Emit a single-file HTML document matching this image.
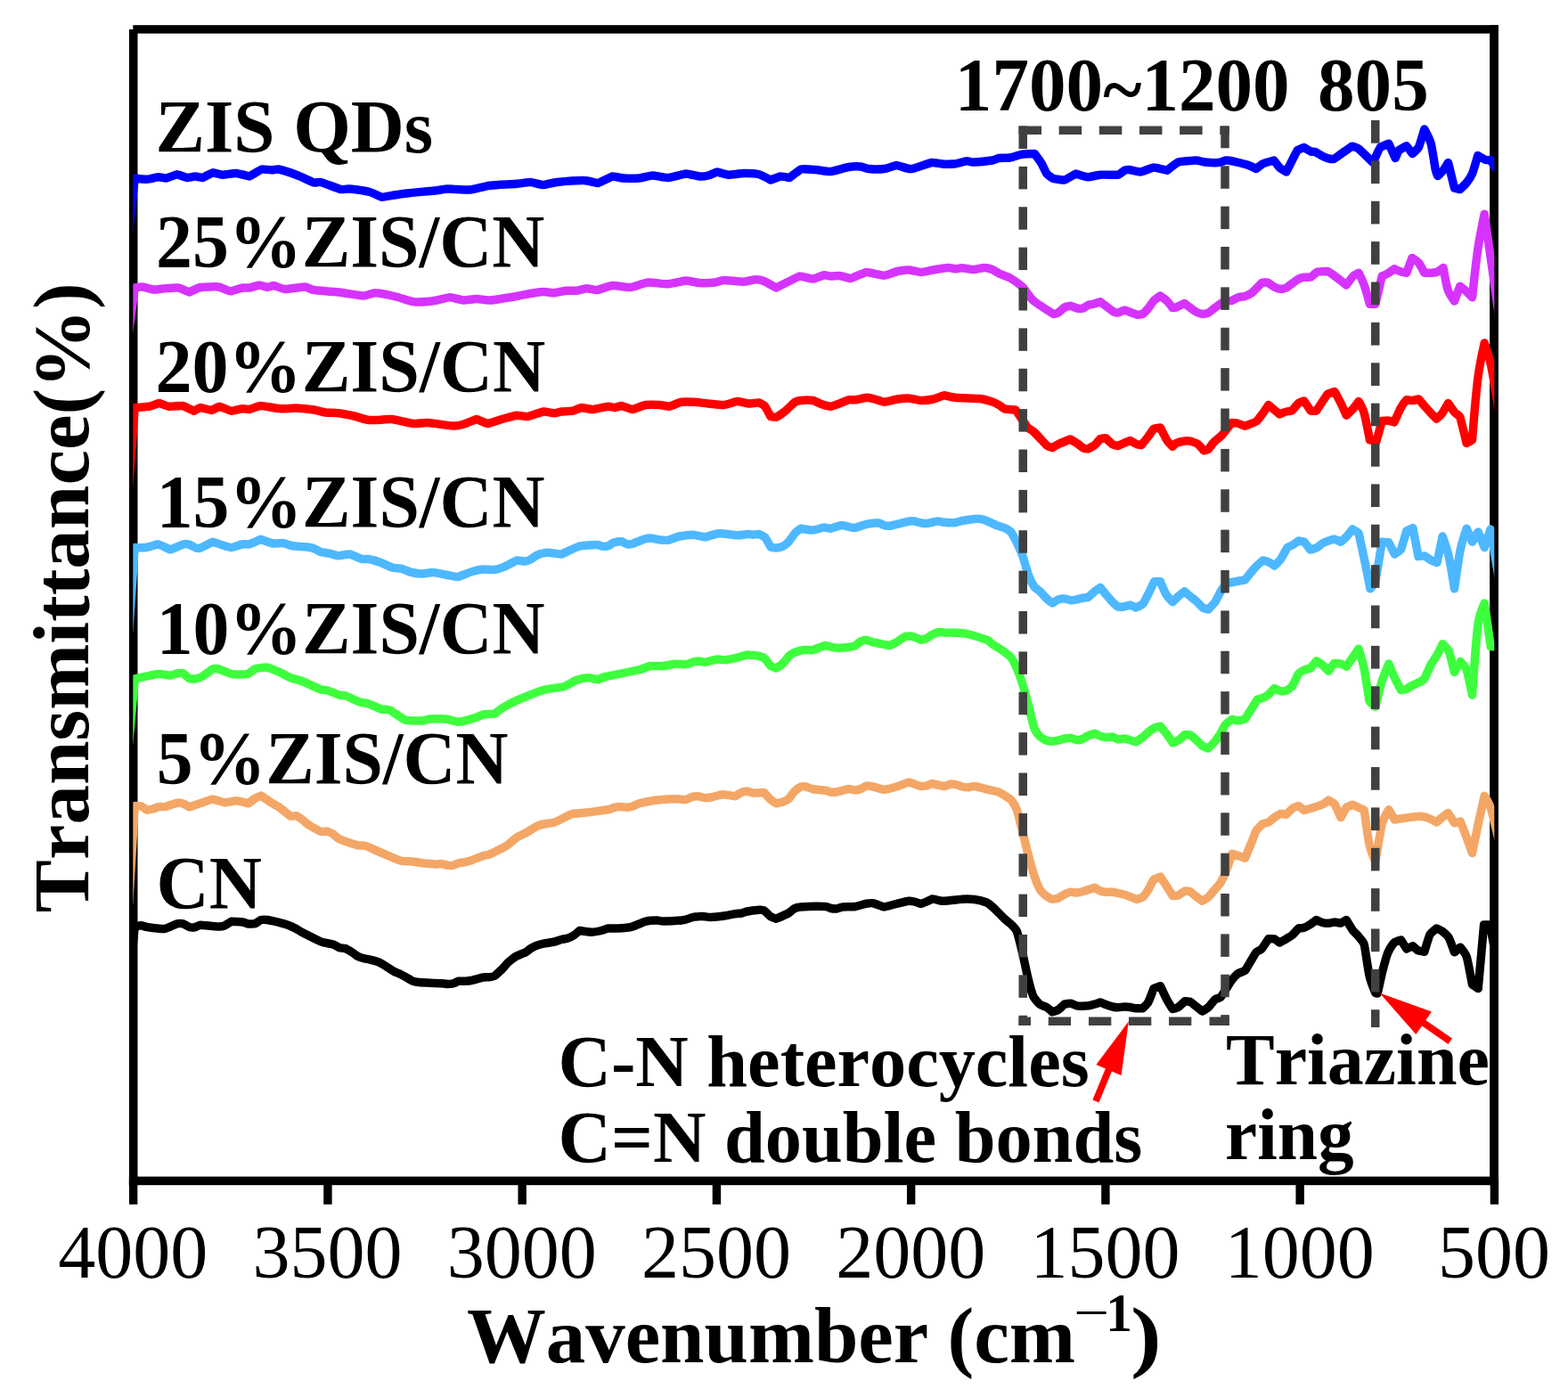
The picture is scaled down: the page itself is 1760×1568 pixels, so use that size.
<!DOCTYPE html>
<html lang="en"><head><meta charset="utf-8"><title>FTIR spectra</title>
<style>
html,body{margin:0;padding:0;background:#fff}
svg{display:block}
text{white-space:pre}
</style></head>
<body>
<svg width="1760" height="1568" viewBox="0 0 1760 1568">
<rect width="1760" height="1568" fill="#fff"/>
<defs><clipPath id="plotclip"><rect x="149.3" y="37" width="1528" height="1288"/></clipPath></defs>
<g id="axes" fill="#000"><rect x="144.9" y="33" width="9.6" height="1297.3"/><rect x="149.3" y="28.2" width="1532.6" height="9.4"/><rect x="1672.1" y="28.2" width="9.8" height="1302"/><rect x="144.9" y="1320.6" width="1537" height="9.6"/><rect x="144.95" y="1325" width="9.4" height="26.8"/><rect x="363.20" y="1325" width="9.4" height="26.8"/><rect x="581.45" y="1325" width="9.4" height="26.8"/><rect x="799.70" y="1325" width="9.4" height="26.8"/><rect x="1017.95" y="1325" width="9.4" height="26.8"/><rect x="1236.20" y="1325" width="9.4" height="26.8"/><rect x="1454.45" y="1325" width="9.4" height="26.8"/><rect x="1672.70" y="1325" width="9.4" height="26.8"/></g>
<g id="curves" clip-path="url(#plotclip)">
<path d="M144.6,1110 L151.2,1040.0 C151.2,1040.0 157.7,1038.7 158.8,1038.8 C159.8,1038.8 161.6,1040.0 165.0,1040.5 C168.4,1041.0 182.9,1042.7 185.0,1042.5 C187.1,1042.3 197.1,1037.2 198.8,1036.8 C200.4,1036.3 204.6,1036.5 205.5,1036.8 C206.4,1037.0 211.6,1040.2 212.5,1040.5 C213.4,1040.8 217.8,1040.9 218.8,1040.8 C219.7,1040.6 223.2,1038.3 225.0,1038.2 C226.8,1038.2 241.9,1039.9 245.0,1040.0 C248.1,1040.1 251.2,1039.3 252.5,1038.8 C253.8,1038.2 259.2,1034.4 260.0,1034.2 C260.8,1034.1 270.4,1034.7 272.5,1035.0 C274.6,1035.3 277.5,1036.8 278.8,1037.0 C280.0,1037.2 285.5,1037.0 286.2,1036.8 C287.0,1036.5 292.3,1032.7 293.0,1032.5 C293.7,1032.3 296.9,1032.0 300.0,1032.5 C303.1,1033.0 315.1,1035.8 318.8,1036.8 C322.4,1037.7 324.2,1038.7 326.2,1039.5 C328.3,1040.3 330.5,1041.4 332.5,1042.5 C334.5,1043.6 335.9,1044.9 340.0,1047.0 C344.1,1049.1 356.0,1055.2 360.0,1056.8 C364.0,1058.3 371.3,1059.2 373.8,1060.0 C376.2,1060.8 380.0,1063.3 381.2,1063.8 C382.5,1064.2 386.4,1064.1 387.5,1064.5 C388.6,1064.9 393.0,1067.5 395.0,1068.8 C397.0,1070.0 399.9,1072.5 401.2,1073.2 C402.6,1074.0 405.6,1075.0 407.5,1075.5 C409.4,1076.0 412.8,1076.5 415.0,1077.0 C417.2,1077.5 419.9,1078.1 421.8,1078.8 C423.6,1079.4 427.0,1080.8 428.8,1081.8 C430.5,1082.7 432.7,1084.3 435.0,1085.8 C437.3,1087.2 440.5,1089.4 442.5,1090.5 C444.5,1091.6 447.1,1092.3 450.0,1093.8 C452.9,1095.2 460.4,1099.8 462.5,1100.8 C464.6,1101.7 465.8,1102.1 470.0,1102.5 C474.2,1102.9 489.9,1103.4 495.0,1103.8 C500.1,1104.1 500.8,1104.5 502.5,1104.5 C504.2,1104.5 507.4,1104.1 508.8,1103.8 C510.1,1103.4 513.8,1101.5 515.0,1101.2 C516.2,1101.0 520.6,1101.4 522.5,1101.2 C524.4,1101.1 526.0,1101.1 528.8,1100.5 C531.5,1099.9 540.1,1097.5 542.5,1097.0 C544.9,1096.5 547.1,1096.9 548.8,1096.8 C550.4,1096.6 554.3,1095.9 555.0,1095.5 C555.7,1095.1 560.3,1090.9 562.5,1088.8 C564.7,1086.6 568.2,1082.3 570.0,1080.5 C571.8,1078.7 574.8,1076.6 576.2,1075.5 C577.7,1074.4 578.3,1073.9 580.0,1073.0 C581.7,1072.1 588.1,1069.8 590.0,1068.8 C591.9,1067.7 594.6,1065.2 596.2,1064.2 C597.9,1063.3 600.8,1061.9 602.5,1061.2 C604.2,1060.6 607.0,1059.9 610.0,1059.2 C613.0,1058.6 619.8,1057.6 622.5,1057.0 C625.2,1056.4 627.9,1055.1 630.0,1054.5 C632.1,1053.9 635.9,1053.5 637.5,1053.0 C639.1,1052.5 642.2,1051.0 643.8,1050.0 C645.3,1049.0 650.5,1044.5 650.5,1044.5 C650.5,1044.5 661.2,1046.2 663.8,1046.2 C666.3,1046.2 672.5,1045.1 675.0,1044.5 C677.5,1043.9 681.0,1042.2 682.5,1042.0 C684.0,1041.8 686.7,1042.1 690.0,1042.0 C693.3,1041.9 701.0,1041.5 703.8,1041.2 C706.5,1041.0 707.4,1040.9 710.0,1040.0 C712.6,1039.1 721.2,1035.4 723.8,1034.5 C726.3,1033.6 728.2,1033.4 730.0,1033.2 C731.8,1033.1 735.5,1032.9 737.5,1033.0 C739.5,1033.1 741.5,1034.0 745.0,1034.0 C748.5,1034.0 761.6,1033.3 765.0,1033.0 C768.4,1032.7 768.2,1032.5 770.0,1032.0 C771.8,1031.5 775.8,1029.9 777.5,1029.5 C779.2,1029.1 781.8,1028.9 783.8,1028.8 C785.7,1028.6 789.3,1028.6 791.2,1028.8 C793.2,1028.9 795.1,1029.6 797.5,1029.5 C799.9,1029.4 807.2,1028.8 811.2,1028.2 C815.3,1027.7 821.8,1026.2 825.0,1025.8 C828.2,1025.3 830.8,1025.3 832.5,1025.0 C834.2,1024.7 836.2,1023.5 838.8,1023.0 C841.3,1022.5 850.3,1021.4 852.5,1021.2 C854.7,1021.1 857.1,1021.5 857.5,1021.8 C857.9,1022.0 863.8,1027.9 865.0,1028.8 C866.2,1029.6 871.2,1031.2 871.2,1031.2 C871.2,1031.2 882.7,1026.3 885.0,1025.0 C887.3,1023.7 890.2,1020.6 891.2,1020.0 C892.3,1019.4 894.7,1018.3 898.8,1018.0 C902.8,1017.7 923.0,1017.4 926.2,1017.5 C929.5,1017.6 931.0,1019.2 932.5,1019.5 C934.0,1019.8 937.5,1020.1 938.8,1020.0 C940.0,1019.9 943.7,1018.3 946.2,1018.0 C948.8,1017.7 956.8,1018.0 960.0,1017.5 C963.2,1017.0 970.0,1014.7 972.5,1014.2 C975.0,1013.8 978.3,1013.4 980.0,1013.8 C981.7,1014.1 991.3,1018.0 992.5,1018.0 C993.7,1018.0 1001.8,1015.6 1006.2,1014.5 C1010.7,1013.4 1018.2,1011.5 1020.0,1011.2 C1021.8,1011.0 1024.5,1011.6 1026.2,1012.0 C1028.0,1012.4 1033.5,1014.5 1033.8,1014.5 C1034.0,1014.5 1037.9,1012.9 1040.0,1012.0 C1042.1,1011.1 1046.7,1008.8 1047.0,1008.8 C1047.3,1008.7 1052.0,1010.2 1053.8,1010.5 C1055.5,1010.8 1056.8,1011.4 1060.0,1011.2 C1063.2,1011.1 1075.2,1009.5 1080.0,1009.2 C1084.8,1009.0 1090.5,1009.1 1093.8,1009.5 C1097.0,1009.9 1105.8,1012.3 1107.5,1013.0 C1109.2,1013.7 1112.2,1016.2 1115.0,1018.8 C1117.8,1021.3 1124.6,1028.5 1127.5,1031.2 C1130.4,1034.0 1133.2,1035.7 1135.0,1037.5 C1136.8,1039.3 1140.3,1042.7 1141.2,1045.0 C1142.2,1047.3 1145.5,1060.5 1147.5,1068.8 C1149.5,1077.0 1151.9,1089.9 1153.8,1097.5 C1155.6,1105.1 1158.9,1116.4 1160.0,1118.8 C1161.1,1121.1 1166.4,1126.7 1167.5,1127.5 C1168.6,1128.3 1173.5,1129.8 1175.0,1130.8 C1176.5,1131.7 1181.2,1135.8 1181.2,1135.8 C1181.2,1135.8 1186.8,1134.0 1188.0,1133.2 C1189.2,1132.5 1194.5,1127.2 1195.0,1127.0 C1195.5,1126.8 1201.1,1126.1 1202.0,1126.2 C1202.9,1126.4 1207.3,1128.4 1208.8,1128.8 C1210.2,1129.1 1213.2,1129.2 1215.0,1129.2 C1216.8,1129.2 1220.2,1129.0 1222.0,1128.8 C1223.8,1128.5 1226.7,1127.6 1228.8,1127.0 C1230.8,1126.4 1234.7,1125.0 1235.0,1125.0 C1235.3,1125.0 1239.1,1126.7 1241.2,1127.5 C1243.4,1128.3 1247.0,1129.6 1248.8,1130.0 C1250.5,1130.4 1253.3,1130.8 1255.0,1130.8 C1256.7,1130.8 1260.7,1130.0 1262.5,1130.0 C1264.3,1130.0 1266.9,1130.2 1268.8,1130.5 C1270.6,1130.8 1273.7,1131.6 1275.5,1131.8 C1277.3,1131.9 1282.5,1131.8 1282.5,1131.8 C1282.5,1131.8 1287.6,1127.0 1288.8,1125.0 C1289.9,1123.0 1295.0,1109.5 1295.0,1109.5 L1302.5,1106.8 C1302.5,1106.8 1308.0,1118.8 1310.0,1122.5 C1312.0,1126.2 1316.2,1132.5 1316.2,1132.5 C1316.2,1132.5 1321.4,1131.2 1322.5,1130.5 C1323.6,1129.8 1330.0,1123.8 1330.0,1123.8 C1330.0,1123.8 1335.6,1124.2 1336.2,1124.5 C1336.9,1124.8 1340.3,1127.8 1342.5,1129.5 C1344.7,1131.2 1349.5,1135.0 1349.5,1135.0 C1349.5,1135.0 1354.8,1132.1 1356.2,1130.8 C1357.7,1129.4 1363.0,1122.4 1363.8,1121.8 C1364.5,1121.1 1369.6,1119.9 1370.0,1119.5 C1370.4,1119.1 1374.1,1113.3 1376.2,1110.0 C1378.4,1106.7 1381.3,1101.6 1383.0,1099.5 C1384.7,1097.4 1388.8,1093.3 1390.0,1092.5 C1391.2,1091.7 1397.1,1089.9 1397.5,1089.5 C1397.9,1089.1 1402.9,1080.4 1405.0,1077.0 C1407.1,1073.6 1409.3,1069.5 1410.0,1068.8 C1410.7,1068.0 1415.2,1066.1 1416.2,1065.0 C1417.3,1063.9 1423.8,1053.8 1423.8,1053.8 C1423.8,1053.8 1430.1,1053.6 1430.5,1053.8 C1430.9,1053.9 1436.2,1058.0 1436.2,1058.0 C1436.2,1058.0 1441.5,1055.1 1443.8,1053.8 C1446.0,1052.4 1449.0,1050.8 1450.5,1049.5 C1452.0,1048.2 1457.3,1042.1 1457.5,1042.0 C1457.7,1041.9 1462.6,1041.6 1463.8,1041.2 C1464.9,1040.9 1468.9,1038.7 1470.8,1037.5 C1472.6,1036.3 1477.5,1032.5 1477.5,1032.5 C1477.5,1032.5 1482.9,1035.1 1484.2,1035.5 C1485.6,1035.9 1489.8,1036.3 1491.2,1036.2 C1492.7,1036.2 1496.8,1035.0 1498.0,1035.0 C1499.2,1035.0 1504.8,1036.3 1505.0,1036.2 C1505.2,1036.2 1511.2,1032.5 1511.2,1032.5 C1511.2,1032.5 1516.5,1041.3 1518.2,1043.8 C1520.0,1046.2 1523.1,1048.9 1525.0,1051.2 C1526.9,1053.6 1530.4,1057.0 1531.2,1060.0 C1532.1,1063.0 1535.4,1087.9 1537.0,1095.0 C1538.6,1102.1 1543.8,1114.5 1543.8,1114.5 L1546.2,1115.0 C1546.2,1115.0 1549.7,1099.0 1551.2,1092.5 C1552.8,1086.0 1555.1,1077.5 1556.2,1073.8 C1557.4,1070.0 1558.9,1066.9 1560.0,1065.0 C1561.1,1063.1 1565.0,1057.9 1565.5,1057.5 C1566.0,1057.1 1572.5,1055.0 1572.5,1055.0 L1578.8,1065.0 L1585.8,1061.8 C1585.8,1061.8 1591.3,1066.6 1592.0,1067.0 C1592.7,1067.4 1598.8,1068.2 1598.8,1068.2 C1598.8,1068.2 1604.2,1050.2 1605.0,1048.8 C1605.8,1047.3 1612.5,1042.0 1612.5,1042.0 C1612.5,1042.0 1617.9,1044.4 1619.2,1045.5 C1620.6,1046.6 1625.2,1050.7 1626.2,1052.5 C1627.3,1054.3 1632.5,1068.8 1632.5,1068.8 L1639.2,1063.2 C1639.2,1063.2 1645.1,1070.3 1646.2,1073.8 C1647.4,1077.2 1652.5,1105.0 1652.5,1105.0 L1659.2,1109.5 L1665.6,1038.0 L1672.5,1038.0 L1682.0,1090.0" fill="none" stroke="#000000" stroke-width="9.5" stroke-linejoin="round" stroke-linecap="butt"/>
<path d="M144.6,1015 L151.2,904.5 C151.2,904.5 158.0,904.7 158.8,905.0 C159.5,905.3 165.0,909.2 165.0,909.2 C165.0,909.2 169.3,908.5 171.2,908.0 C173.2,907.5 177.4,905.7 178.8,905.5 C180.1,905.3 182.9,905.9 185.0,905.5 C187.1,905.1 197.1,901.5 198.8,901.2 C200.4,901.0 204.3,901.6 205.5,902.0 C206.7,902.4 212.5,905.8 212.5,905.8 C212.5,905.8 214.5,905.2 218.8,903.8 C223.0,902.3 237.4,897.1 238.8,897.0 C240.1,896.9 250.5,900.6 252.5,900.8 C254.5,900.9 262.7,898.7 265.0,898.8 C267.3,898.8 278.8,901.8 278.8,901.8 C278.8,901.8 284.4,897.4 286.2,896.2 C288.1,895.1 293.0,893.0 293.0,893.0 C293.0,893.0 302.1,899.4 305.0,901.2 C307.9,903.1 309.6,903.5 312.5,905.5 C315.4,907.5 326.2,916.2 326.2,916.2 C326.3,916.3 332.3,915.4 332.5,915.5 C332.7,915.6 338.0,919.0 340.0,920.5 C342.0,922.0 343.8,924.2 346.2,925.8 C348.7,927.3 358.7,932.8 360.0,933.2 C361.3,933.7 366.5,933.0 367.5,933.2 C368.5,933.5 372.0,935.2 373.8,936.2 C375.5,937.3 378.4,940.5 381.2,941.8 C384.1,943.0 398.2,947.9 401.2,948.8 C404.3,949.6 407.5,948.5 410.0,949.2 C412.5,950.0 422.3,954.8 428.8,957.5 C435.2,960.2 447.0,965.4 450.0,966.2 C453.0,967.1 457.6,966.4 461.2,966.8 C464.9,967.1 470.7,968.2 475.0,968.8 C479.3,969.3 486.1,969.9 488.8,970.0 C491.4,970.1 493.6,969.4 495.0,969.5 C496.4,969.6 500.9,971.0 502.5,971.2 C504.1,971.5 507.7,971.5 508.8,971.2 C509.8,971.0 513.3,969.2 515.0,968.8 C516.7,968.3 520.5,967.9 522.5,967.5 C524.5,967.1 525.8,966.8 528.8,965.8 C531.7,964.7 539.9,961.4 542.5,960.5 C545.1,959.6 546.5,960.1 548.8,959.2 C551.0,958.4 559.2,954.2 562.5,952.5 C565.8,950.8 567.7,949.9 570.0,948.2 C572.3,946.6 577.6,941.6 580.0,940.0 C582.4,938.4 586.6,936.9 590.0,935.0 C593.4,933.1 600.1,928.7 602.5,927.5 C604.9,926.3 607.4,925.6 610.0,925.0 C612.6,924.4 619.8,923.9 622.5,923.0 C625.2,922.1 633.1,917.7 636.2,916.2 C639.4,914.8 641.2,913.7 643.8,913.2 C646.3,912.8 653.9,912.5 660.0,911.8 C666.1,911.0 678.7,909.4 682.5,908.8 C686.3,908.1 688.3,906.7 690.0,906.2 C691.7,905.8 694.6,905.5 696.2,905.5 C697.9,905.5 702.3,906.3 703.8,906.2 C705.2,906.2 708.3,905.5 710.0,905.0 C711.7,904.5 715.1,902.5 717.5,901.8 C719.9,901.0 726.8,899.8 730.0,899.2 C733.2,898.7 733.5,898.4 737.5,898.0 C741.5,897.6 752.9,896.8 757.5,896.8 C762.1,896.7 768.7,897.7 770.0,897.5 C771.3,897.3 776.2,894.6 777.5,894.2 C778.8,893.9 782.4,893.6 783.8,893.8 C785.1,893.9 789.9,895.4 791.2,895.5 C792.6,895.6 794.8,895.5 797.5,895.0 C800.2,894.5 808.9,891.9 811.2,891.8 C813.6,891.6 824.5,893.8 825.0,893.8 C825.5,893.7 831.2,889.8 832.5,889.2 C833.8,888.7 838.0,888.0 838.8,888.0 C839.5,888.0 843.3,889.9 845.0,890.0 C846.7,890.1 857.5,889.5 857.5,889.5 C857.5,889.5 863.4,896.0 865.0,897.5 C866.6,899.0 871.2,901.8 871.2,901.8 C871.2,901.8 877.1,900.6 878.8,900.0 C880.4,899.4 884.2,897.7 885.0,897.0 C885.8,896.3 889.7,890.3 891.2,888.8 C892.8,887.2 898.4,883.2 898.8,883.0 C899.1,882.8 903.7,882.7 905.0,883.0 C906.3,883.3 910.1,885.3 912.5,885.8 C914.9,886.2 924.0,886.6 926.2,887.0 C928.5,887.4 931.4,889.1 932.5,889.2 C933.6,889.4 937.5,889.2 940.0,888.8 C942.5,888.3 950.9,885.7 952.5,885.5 C954.1,885.3 958.8,886.8 960.0,886.8 C961.2,886.8 965.0,886.0 966.2,885.5 C967.5,885.0 972.1,882.1 972.5,882.0 C972.9,881.9 977.2,882.4 980.0,883.0 C982.8,883.6 990.8,886.2 992.5,886.2 C994.2,886.2 1002.3,884.2 1006.2,883.0 C1010.2,881.8 1019.5,878.1 1020.0,878.0 C1020.5,877.9 1024.0,879.3 1026.2,880.0 C1028.5,880.7 1032.7,882.4 1033.8,882.5 C1034.8,882.6 1038.5,882.1 1040.0,881.8 C1041.5,881.4 1045.6,879.5 1046.2,879.5 C1046.9,879.5 1051.6,880.8 1053.8,881.2 C1055.9,881.7 1059.2,882.6 1060.0,882.5 C1060.8,882.4 1066.5,880.2 1067.5,880.0 C1068.5,879.8 1071.0,880.1 1072.5,880.5 C1074.0,880.9 1078.3,882.6 1080.0,883.0 C1081.7,883.4 1084.8,883.8 1086.2,883.8 C1087.7,883.7 1092.0,882.3 1093.8,882.5 C1095.5,882.7 1103.0,884.6 1107.5,885.8 C1112.0,886.9 1118.5,888.0 1121.2,889.2 C1124.0,890.5 1133.7,896.7 1135.0,898.0 C1136.3,899.3 1139.9,905.0 1141.2,908.8 C1142.6,912.5 1145.2,923.7 1147.5,932.5 C1149.8,941.3 1152.8,954.4 1155.0,962.5 C1157.2,970.6 1159.5,978.5 1161.2,983.8 C1163.0,989.0 1166.3,996.9 1167.5,998.8 C1168.7,1000.6 1173.7,1005.3 1175.0,1006.2 C1176.3,1007.2 1180.8,1009.2 1181.2,1009.2 C1181.7,1009.3 1186.8,1008.5 1188.0,1008.0 C1189.2,1007.5 1193.3,1004.6 1195.0,1003.8 C1196.7,1002.9 1201.0,1001.4 1202.0,1001.2 C1203.0,1001.1 1207.4,1002.1 1208.8,1002.0 C1210.1,1001.9 1212.2,1001.6 1215.0,1000.8 C1217.8,999.9 1228.8,996.2 1228.8,996.2 C1228.8,996.2 1233.8,999.5 1235.0,1000.0 C1236.2,1000.5 1239.5,1001.1 1241.2,1001.2 C1243.0,1001.4 1246.2,1000.9 1248.8,1001.2 C1251.3,1001.6 1259.0,1003.2 1262.5,1004.2 C1266.0,1005.3 1275.3,1009.5 1275.5,1009.5 C1275.7,1009.5 1281.9,1007.5 1282.5,1007.0 C1283.1,1006.5 1287.1,1001.4 1288.8,998.8 C1290.4,996.1 1294.8,987.2 1295.0,987.0 C1295.2,986.8 1302.5,984.2 1302.5,984.2 C1302.5,984.2 1307.8,992.1 1310.0,995.5 C1312.2,998.9 1316.2,1005.5 1316.2,1005.5 C1316.2,1005.5 1321.7,1005.3 1322.5,1005.0 C1323.3,1004.7 1329.8,1000.1 1330.0,1000.0 C1330.2,999.9 1335.8,1000.5 1336.2,1000.8 C1336.7,1001.0 1340.6,1004.7 1342.5,1006.2 C1344.4,1007.8 1349.5,1011.2 1349.5,1011.2 C1349.5,1011.2 1354.8,1008.3 1356.2,1007.0 C1357.7,1005.7 1361.5,1000.9 1363.8,998.2 C1366.0,995.6 1368.6,993.1 1370.0,990.8 C1371.4,988.4 1374.4,982.2 1376.2,977.5 C1378.1,972.8 1383.0,958.2 1383.0,958.2 C1383.0,958.2 1387.7,959.7 1390.0,960.5 C1392.3,961.3 1397.5,963.2 1397.5,963.2 C1397.5,963.2 1402.9,950.1 1405.0,945.0 C1407.1,939.9 1408.9,934.3 1410.0,932.5 C1411.1,930.7 1416.9,924.9 1417.5,924.5 C1418.1,924.1 1422.8,923.5 1423.8,923.0 C1424.7,922.5 1428.6,918.8 1430.5,917.5 C1432.4,916.2 1437.3,913.3 1437.5,913.2 C1437.7,913.2 1443.8,914.2 1443.8,914.2 C1443.8,914.2 1450.1,907.8 1451.2,907.0 C1452.4,906.2 1457.5,904.5 1457.5,904.5 L1463.8,909.5 C1463.8,909.5 1467.5,908.5 1470.8,907.5 C1474.0,906.5 1482.0,904.0 1484.2,903.0 C1486.5,902.0 1491.2,898.2 1491.2,898.2 C1491.2,898.2 1497.4,901.6 1498.0,902.5 C1498.6,903.4 1505.0,917.5 1505.0,917.5 C1505.0,917.5 1510.9,906.6 1511.2,906.2 C1511.6,905.9 1518.2,903.2 1518.2,903.2 L1531.2,909.2 C1531.2,909.2 1535.4,940.0 1537.0,947.5 C1538.6,955.0 1543.8,967.5 1543.8,967.5 C1543.8,967.5 1549.6,931.6 1551.2,925.0 C1552.9,918.4 1558.8,908.8 1558.8,908.8 L1565.5,920.0 C1565.5,920.0 1574.4,918.6 1578.8,918.0 C1583.1,917.4 1589.5,916.4 1592.0,916.2 C1594.5,916.1 1597.2,916.4 1598.8,916.8 C1600.3,917.1 1604.4,918.7 1606.2,919.5 C1608.1,920.3 1612.5,923.0 1612.5,923.0 C1612.5,923.0 1617.4,918.5 1619.2,917.0 C1621.1,915.5 1625.5,912.5 1625.5,912.5 L1632.5,923.8 L1639.2,922.0 C1639.2,922.0 1644.1,934.3 1646.2,940.0 C1648.4,945.7 1652.5,957.5 1652.5,957.5 C1652.5,957.5 1657.0,935.5 1659.2,925.0 C1661.5,914.5 1666.2,893.3 1666.2,893.3 C1666.2,893.3 1671.2,900.7 1673.1,906.5 C1675.0,912.3 1682.3,943.0 1682.3,943.0" fill="none" stroke="#f4a666" stroke-width="9.5" stroke-linejoin="round" stroke-linecap="butt"/>
<path d="M144.6,834.5 L151.2,762.0 C151.2,762.0 173.7,756.9 177.5,756.5 C181.3,756.1 189.7,758.3 191.2,758.2 C192.8,758.2 197.3,756.0 198.8,755.8 C200.2,755.5 205.2,755.6 205.5,755.8 C205.8,755.9 212.0,761.3 212.5,761.5 C213.0,761.7 217.6,762.2 218.8,762.0 C219.9,761.8 225.5,760.2 227.5,759.0 C229.5,757.8 238.2,751.0 238.8,750.8 C239.3,750.5 243.1,750.2 245.0,750.8 C246.9,751.3 257.7,755.9 260.0,756.5 C262.3,757.1 264.9,757.0 267.5,757.0 C270.1,757.0 277.9,756.5 278.8,756.2 C279.6,756.0 285.0,751.2 286.2,750.8 C287.5,750.3 297.0,748.8 298.8,749.0 C300.5,749.2 308.7,752.1 312.5,753.8 C316.3,755.4 323.1,759.5 326.2,760.8 C329.4,762.0 332.8,762.2 337.5,764.0 C342.2,765.8 356.6,772.5 360.0,773.8 C363.4,775.0 364.9,774.2 367.5,775.0 C370.1,775.8 379.1,779.6 381.2,780.2 C383.4,780.9 385.5,780.1 387.5,780.8 C389.5,781.4 399.3,786.4 402.5,787.5 C405.7,788.6 410.5,788.9 413.8,790.0 C417.0,791.1 424.9,795.0 427.5,795.8 C430.1,796.5 435.5,796.1 437.5,797.0 C439.5,797.9 453.0,807.6 455.0,808.2 C457.0,808.9 470.7,809.1 473.8,809.0 C476.8,808.9 479.4,807.2 482.5,807.0 C485.6,806.8 496.3,806.6 500.0,807.0 C503.7,807.4 511.7,810.1 513.8,810.2 C515.8,810.4 522.1,809.0 525.0,808.2 C527.9,807.5 532.3,806.0 535.0,805.0 C537.7,804.0 540.5,802.4 542.5,802.0 C544.5,801.6 554.0,801.6 555.0,801.2 C556.0,800.9 561.6,796.0 565.0,794.0 C568.4,792.0 573.5,789.1 580.0,786.2 C586.5,783.4 603.6,776.4 610.0,774.5 C616.4,772.6 628.6,771.9 632.5,770.8 C636.4,769.6 644.5,764.4 647.5,763.2 C650.5,762.1 657.9,760.8 660.0,760.8 C662.1,760.7 670.2,762.8 671.2,762.8 C672.3,762.7 673.9,760.9 680.0,759.5 C686.1,758.1 709.1,753.7 716.2,752.0 C723.4,750.3 727.1,747.9 730.0,747.5 C732.9,747.1 741.5,747.8 745.0,747.5 C748.5,747.2 754.5,745.5 757.5,745.2 C760.5,745.0 768.2,745.9 770.0,745.8 C771.8,745.6 775.5,743.8 777.5,743.2 C779.5,742.7 783.8,742.0 785.0,742.0 C786.2,742.0 789.7,743.4 791.2,743.2 C792.8,743.1 802.8,740.2 805.0,740.0 C807.2,739.8 811.3,740.9 813.8,740.8 C816.2,740.6 823.9,739.1 827.5,738.2 C831.1,737.4 836.7,735.1 838.8,735.0 C840.8,734.9 850.6,736.1 852.5,736.5 C854.4,736.9 857.9,738.7 858.8,739.5 C859.6,740.3 864.3,746.9 865.0,747.5 C865.7,748.1 871.2,750.0 871.2,750.0 C871.2,750.0 877.0,746.2 878.8,744.5 C880.5,742.8 884.9,737.0 886.2,735.8 C887.6,734.5 890.8,732.6 892.5,732.0 C894.2,731.4 900.2,729.8 902.5,729.5 C904.8,729.2 910.3,730.0 912.5,729.5 C914.7,729.0 925.1,724.6 926.2,724.5 C927.4,724.4 934.5,726.8 937.5,727.0 C940.5,727.2 949.8,726.8 952.5,726.5 C955.2,726.2 958.8,725.1 960.0,724.5 C961.2,723.9 965.1,720.6 966.2,720.0 C967.4,719.4 971.9,718.2 972.5,718.2 C973.1,718.3 976.3,719.9 980.0,720.8 C983.7,721.6 998.1,724.5 998.8,724.5 C999.4,724.5 1005.2,721.4 1007.5,720.0 C1009.8,718.6 1014.0,715.5 1015.0,715.0 C1016.0,714.5 1019.0,714.0 1020.0,714.0 C1021.0,714.0 1024.7,714.5 1026.2,715.0 C1027.8,715.5 1033.4,718.2 1033.8,718.2 C1034.1,718.3 1038.7,717.1 1040.0,716.5 C1041.3,715.9 1044.5,713.4 1046.2,712.5 C1048.0,711.6 1052.8,709.6 1053.8,709.5 C1054.7,709.4 1059.4,710.2 1061.2,710.2 C1063.1,710.3 1064.8,709.9 1067.5,710.0 C1070.2,710.1 1077.1,710.5 1080.0,710.8 C1082.9,711.0 1083.7,711.0 1087.5,712.0 C1091.3,713.0 1104.8,717.1 1107.5,718.2 C1110.2,719.4 1112.4,722.0 1115.0,723.8 C1117.6,725.5 1122.2,728.0 1125.0,730.0 C1127.8,732.0 1133.7,736.7 1135.0,738.2 C1136.3,739.8 1138.3,743.2 1140.0,747.0 C1141.7,750.8 1145.5,760.7 1147.5,767.0 C1149.5,773.3 1152.1,783.5 1153.8,789.5 C1155.4,795.5 1156.3,799.8 1157.5,804.5 C1158.7,809.2 1160.3,816.2 1161.2,818.2 C1162.2,820.3 1166.5,826.0 1167.5,827.0 C1168.5,828.0 1173.9,830.8 1175.0,831.2 C1176.1,831.7 1179.8,832.1 1181.2,832.0 C1182.7,831.9 1186.8,831.2 1188.8,830.8 C1190.7,830.3 1193.3,829.3 1195.0,829.0 C1196.7,828.7 1200.2,828.1 1201.2,828.2 C1202.3,828.4 1208.0,830.7 1208.8,830.8 C1209.5,830.8 1213.8,830.0 1215.0,829.5 C1216.2,829.0 1219.6,826.5 1221.2,825.8 C1222.9,825.0 1228.7,823.2 1228.8,823.2 C1228.8,823.3 1233.6,825.8 1235.0,826.2 C1236.4,826.7 1239.7,827.4 1241.2,827.5 C1242.8,827.6 1248.0,826.9 1248.8,827.0 C1249.5,827.1 1254.4,829.9 1255.0,830.0 C1255.6,830.1 1261.0,828.8 1262.5,829.0 C1264.0,829.2 1275.0,832.8 1275.0,832.8 C1275.0,832.8 1280.5,829.0 1282.5,827.5 C1284.5,826.0 1286.9,823.5 1288.8,822.0 C1290.6,820.5 1293.7,818.1 1295.0,817.5 C1296.3,816.9 1302.5,815.2 1302.5,815.2 C1302.5,815.2 1308.0,821.8 1310.0,824.5 C1312.0,827.2 1316.2,833.8 1316.2,833.8 C1316.2,833.8 1321.2,832.1 1322.5,831.2 C1323.8,830.4 1330.0,824.5 1330.0,824.5 C1330.0,824.5 1335.6,824.9 1336.2,825.2 C1336.9,825.6 1341.7,829.6 1343.8,831.5 C1345.8,833.4 1348.9,836.8 1350.0,837.5 C1351.1,838.2 1356.2,840.0 1356.2,840.0 C1356.2,840.0 1361.8,834.3 1363.8,832.0 C1365.7,829.7 1368.4,825.8 1370.0,823.2 C1371.6,820.7 1374.0,815.1 1375.0,813.8 C1376.0,812.4 1382.5,807.5 1382.5,807.5 C1382.5,807.5 1388.8,808.8 1390.0,808.8 C1391.2,808.7 1397.5,807.0 1397.5,807.0 C1397.5,807.0 1402.7,798.8 1405.0,795.2 C1407.3,791.7 1411.0,785.5 1411.2,785.2 C1411.5,785.0 1416.0,783.9 1417.5,783.2 C1419.0,782.6 1422.3,780.7 1423.8,779.5 C1425.2,778.3 1430.5,772.5 1430.5,772.5 C1430.5,772.5 1436.7,775.6 1437.5,775.8 C1438.3,775.9 1443.2,775.5 1443.8,775.2 C1444.3,775.0 1449.5,771.4 1450.5,770.0 C1451.5,768.6 1456.7,757.3 1457.5,756.2 C1458.3,755.2 1462.4,752.6 1463.8,752.0 C1465.1,751.4 1470.2,750.4 1470.8,750.0 C1471.3,749.6 1477.5,742.0 1477.5,742.0 C1477.5,742.0 1482.6,744.9 1484.2,746.2 C1485.9,747.6 1491.2,753.2 1491.2,753.2 L1497.5,744.5 C1497.5,744.5 1503.9,744.7 1505.0,745.0 C1506.1,745.3 1511.2,748.2 1511.2,748.2 C1511.2,748.2 1516.0,741.5 1518.2,738.2 C1520.5,735.0 1525.0,728.2 1525.0,728.2 C1525.0,728.2 1529.5,742.4 1531.2,750.8 C1533.0,759.1 1536.7,785.9 1537.0,787.0 C1537.3,788.1 1543.8,793.2 1543.8,793.2 C1543.8,793.2 1549.1,771.4 1551.2,764.5 C1553.4,757.6 1558.8,745.0 1558.8,745.0 C1558.8,745.0 1563.4,756.2 1565.5,760.8 C1567.6,765.3 1572.5,774.5 1572.5,774.5 C1572.5,774.5 1577.5,773.8 1578.8,773.2 C1580.0,772.7 1583.9,770.0 1585.8,769.0 C1587.6,768.0 1590.2,767.2 1592.0,766.2 C1593.8,765.3 1598.1,762.9 1598.8,762.0 C1599.4,761.1 1604.3,749.4 1606.2,745.8 C1608.2,742.1 1611.1,738.6 1613.0,735.2 C1614.9,731.9 1619.2,722.8 1619.2,722.8 C1619.2,722.8 1625.3,728.6 1626.2,730.8 C1627.2,732.9 1632.5,754.5 1632.5,754.5 L1639.2,742.5 C1639.2,742.5 1645.2,749.1 1646.2,752.0 C1647.3,754.9 1652.5,780.0 1652.5,780.0 C1652.5,780.0 1657.1,714.5 1658.8,702.0 C1660.4,689.5 1666.2,677.0 1666.2,677.0 L1673.2,725.5 L1682.0,726.0" fill="none" stroke="#3dff3d" stroke-width="9.5" stroke-linejoin="round" stroke-linecap="butt"/>
<path d="M144.6,709.5 L151.2,614.5 C151.2,614.5 160.9,614.9 163.8,614.5 C166.6,614.1 177.0,610.7 177.5,610.8 C178.0,610.8 191.2,617.0 191.2,617.0 C191.2,617.0 204.8,611.1 206.2,610.8 C207.7,610.4 211.3,610.9 212.5,611.2 C213.7,611.6 219.1,614.7 220.0,615.0 C220.9,615.3 223.7,615.5 225.0,615.0 C226.3,614.5 238.6,608.3 238.8,608.2 C238.9,608.2 257.2,614.4 258.8,614.5 C260.3,614.6 270.2,611.2 272.5,610.8 C274.8,610.3 278.4,611.2 280.0,610.8 C281.6,610.3 292.3,605.3 292.5,605.2 C292.7,605.2 304.1,609.6 306.2,610.0 C308.4,610.4 315.5,609.3 317.5,609.5 C319.5,609.7 324.1,611.9 327.5,612.5 C330.9,613.1 341.6,613.6 345.0,614.0 C348.4,614.4 350.7,615.1 352.5,615.8 C354.3,616.4 358.2,618.9 360.0,619.5 C361.8,620.1 367.0,620.6 370.0,621.2 C373.0,621.9 378.1,623.7 380.0,623.8 C381.9,623.8 391.0,621.8 392.5,622.0 C394.0,622.2 404.4,627.0 406.2,627.5 C408.1,628.0 411.5,627.1 413.8,627.5 C416.0,627.9 423.9,630.2 427.5,631.5 C431.1,632.8 437.6,636.3 440.0,637.0 C442.4,637.7 447.2,637.6 450.0,638.2 C452.8,638.9 459.5,641.8 462.5,642.5 C465.5,643.2 471.1,644.0 473.8,644.0 C476.4,644.0 483.5,642.4 486.2,642.5 C489.0,642.6 495.4,644.2 500.0,645.0 C504.6,645.8 512.1,647.7 513.8,647.5 C515.4,647.3 526.2,642.6 530.0,641.5 C533.8,640.4 539.6,639.2 542.5,639.0 C545.4,638.8 552.8,639.7 555.0,639.5 C557.2,639.3 561.7,637.9 565.0,636.5 C568.3,635.1 579.0,629.3 580.0,629.0 C581.0,628.7 587.5,630.1 588.8,630.0 C590.0,629.9 593.6,628.9 595.0,628.2 C596.4,627.6 600.8,624.1 602.5,623.2 C604.2,622.4 608.4,621.1 610.0,620.8 C611.6,620.4 613.8,620.1 616.2,620.2 C618.7,620.4 628.2,622.4 630.0,622.0 C631.8,621.6 646.1,614.3 650.0,613.2 C653.9,612.2 667.6,611.5 670.0,611.5 C672.4,611.5 675.1,613.1 676.2,613.2 C677.4,613.4 681.6,613.0 682.5,612.8 C683.4,612.5 687.4,609.5 688.8,609.0 C690.1,608.5 697.1,607.4 697.5,607.5 C697.9,607.6 703.2,610.6 703.8,610.8 C704.3,610.9 707.9,610.9 710.0,610.2 C712.1,609.6 721.3,605.8 723.8,605.0 C726.2,604.2 728.4,603.9 730.0,604.0 C731.6,604.1 737.2,605.4 740.0,605.8 C742.8,606.1 748.1,606.6 750.0,606.2 C751.9,605.9 759.2,602.7 762.5,602.0 C765.8,601.3 774.5,600.2 777.5,600.2 C780.5,600.3 789.3,602.8 791.2,602.8 C793.2,602.7 802.7,599.4 805.0,599.0 C807.3,598.6 809.3,598.8 812.5,599.0 C815.7,599.2 824.2,600.7 827.5,600.8 C830.8,600.8 838.0,599.6 840.0,599.5 C842.0,599.4 843.6,600.2 845.0,600.2 C846.4,600.2 852.1,599.4 852.5,599.5 C852.9,599.6 858.0,602.4 858.8,603.2 C859.5,604.1 865.0,614.0 865.0,614.0 C865.0,614.0 870.1,615.1 871.2,615.0 C872.4,614.9 877.8,613.7 878.8,613.2 C879.7,612.8 883.4,609.9 885.0,608.2 C886.6,606.6 890.9,599.9 892.5,598.2 C894.1,596.6 898.8,593.2 898.8,593.2 C898.8,593.2 910.1,595.1 912.5,595.0 C914.9,594.9 923.4,592.1 925.0,592.0 C926.6,591.9 931.1,593.4 932.5,593.2 C933.9,593.1 943.4,589.5 945.0,589.5 C946.6,589.5 957.0,592.6 958.8,592.5 C960.5,592.4 970.2,589.0 973.8,588.2 C977.3,587.5 985.0,586.9 986.2,587.0 C987.5,587.1 992.6,589.7 993.8,590.0 C994.9,590.3 996.9,590.6 1000.0,590.0 C1003.1,589.4 1016.7,585.9 1020.0,585.2 C1023.3,584.6 1024.8,584.8 1026.2,585.0 C1027.7,585.2 1032.0,586.7 1033.8,587.0 C1035.5,587.3 1038.0,587.7 1040.0,587.5 C1042.0,587.3 1050.7,585.1 1052.5,585.0 C1054.3,584.9 1057.3,586.0 1060.0,586.2 C1062.7,586.5 1070.4,586.7 1072.5,586.5 C1074.6,586.3 1077.0,585.1 1080.0,584.5 C1083.0,583.9 1091.0,582.8 1093.8,582.5 C1096.5,582.2 1098.5,582.3 1100.0,582.5 C1101.5,582.7 1103.7,583.0 1106.2,584.0 C1108.8,585.0 1117.1,589.1 1120.0,590.2 C1122.9,591.4 1125.9,591.7 1127.5,592.5 C1129.1,593.3 1134.2,596.6 1135.0,597.5 C1135.8,598.4 1138.1,602.7 1140.0,606.5 C1141.9,610.3 1145.4,617.5 1147.5,623.2 C1149.6,629.0 1153.2,642.4 1155.0,647.0 C1156.8,651.6 1160.3,657.7 1161.2,659.0 C1162.2,660.3 1165.6,662.2 1167.5,664.0 C1169.4,665.8 1173.1,670.2 1175.0,672.0 C1176.9,673.8 1181.2,677.0 1181.2,677.0 C1181.2,677.0 1187.8,672.8 1188.8,672.5 C1189.7,672.2 1193.6,671.9 1195.0,672.0 C1196.4,672.1 1201.3,673.7 1202.5,673.8 C1203.7,673.8 1207.9,672.9 1210.0,672.5 C1212.1,672.1 1214.7,671.3 1216.2,671.0 C1217.8,670.7 1220.8,670.7 1221.2,670.5 C1221.7,670.3 1226.9,665.3 1228.8,663.8 C1230.6,662.2 1235.0,659.5 1235.0,659.5 C1235.0,659.5 1239.0,664.3 1241.2,667.0 C1243.5,669.7 1246.9,673.8 1248.8,675.8 C1250.6,677.7 1254.9,681.2 1255.0,681.2 C1255.1,681.3 1259.6,681.3 1261.2,681.0 C1262.9,680.7 1268.5,679.0 1268.8,679.0 C1269.0,679.0 1275.0,682.0 1275.0,682.0 C1275.0,682.0 1282.0,678.8 1282.5,678.2 C1283.0,677.7 1286.8,670.9 1288.8,667.0 C1290.7,663.1 1295.5,652.8 1295.5,652.8 L1302.5,652.8 C1302.5,652.8 1307.3,664.6 1308.8,667.0 C1310.2,669.4 1316.2,675.8 1316.2,675.8 C1316.2,675.8 1320.6,671.3 1322.5,669.5 C1324.4,667.7 1329.5,663.8 1329.5,663.8 C1329.5,663.8 1334.2,667.8 1336.2,669.5 C1338.3,671.2 1340.5,672.7 1342.5,674.5 C1344.5,676.3 1349.1,681.4 1350.0,682.0 C1350.9,682.6 1356.2,684.0 1356.2,684.0 C1356.2,684.0 1362.0,678.3 1363.8,675.8 C1365.5,673.2 1369.5,664.7 1371.2,662.0 C1373.0,659.3 1377.0,654.7 1377.5,654.5 C1378.0,654.3 1397.1,650.9 1397.5,650.8 C1397.9,650.6 1400.5,646.9 1402.5,644.5 C1404.5,642.1 1407.9,637.9 1410.0,635.8 C1412.1,633.6 1417.5,629.0 1417.5,629.0 C1417.5,629.0 1422.4,630.1 1423.8,630.8 C1425.1,631.4 1430.5,635.0 1430.5,635.0 C1430.5,635.0 1435.9,630.1 1437.5,627.8 C1439.1,625.4 1444.5,615.1 1445.0,614.5 C1445.5,613.9 1449.6,612.5 1451.2,611.5 C1452.9,610.5 1457.5,607.0 1457.5,607.0 C1457.5,607.0 1463.5,608.1 1463.8,608.2 C1464.0,608.4 1470.8,617.0 1470.8,617.0 C1470.8,617.0 1476.2,615.7 1477.5,615.0 C1478.8,614.3 1483.3,610.5 1485.0,609.5 C1486.7,608.5 1490.6,607.1 1492.5,606.5 C1494.4,605.9 1497.8,605.0 1498.0,605.0 C1498.2,605.0 1505.0,608.2 1505.0,608.2 C1505.0,608.2 1509.4,604.5 1511.2,602.5 C1513.1,600.5 1518.2,594.0 1518.2,594.0 L1525.0,598.2 C1525.0,598.2 1529.1,616.8 1531.2,627.0 C1533.4,637.2 1538.0,660.8 1538.0,660.8 C1538.0,660.8 1542.7,656.2 1543.8,652.0 C1544.8,647.8 1551.2,608.2 1551.2,608.2 L1558.8,608.8 L1565.5,622.0 C1565.5,622.0 1572.2,617.7 1572.5,617.0 C1572.8,616.3 1578.8,595.8 1578.8,595.8 L1585.8,592.5 L1592.0,624.5 C1592.0,624.5 1598.5,623.7 1598.8,623.8 C1599.0,623.8 1604.5,627.8 1606.2,628.8 C1608.0,629.7 1613.0,631.5 1613.0,631.5 L1619.2,602.0 C1619.2,602.0 1624.4,616.3 1626.2,624.5 C1628.1,632.7 1632.5,660.8 1632.5,660.8 C1632.5,660.8 1637.3,626.3 1639.2,617.0 C1641.2,607.7 1646.2,593.2 1646.2,593.2 L1652.5,608.2 L1659.2,597.0 L1666.2,614.5 L1673.0,594.0 L1682.3,648.5" fill="none" stroke="#4db8ff" stroke-width="9.5" stroke-linejoin="round" stroke-linecap="butt"/>
<path d="M144.6,546 L151.2,457.5 C151.2,457.5 164.3,456.8 167.5,456.2 C170.7,455.7 178.1,452.5 178.8,452.5 C179.4,452.5 187.7,456.0 190.0,456.2 C192.3,456.5 203.2,455.2 205.0,455.5 C206.8,455.8 217.5,461.2 217.5,461.2 C217.5,461.2 224.6,457.5 225.0,457.5 C225.4,457.5 237.1,460.5 237.5,460.5 C237.9,460.5 246.2,456.2 246.2,456.2 C246.2,456.2 258.7,461.1 260.0,461.2 C261.3,461.4 270.4,458.9 272.5,458.8 C274.6,458.6 278.4,459.8 280.0,459.5 C281.6,459.2 290.0,455.6 292.5,455.5 C295.0,455.4 309.9,458.4 315.0,458.8 C320.1,459.1 327.4,457.8 332.5,458.0 C337.6,458.2 348.0,459.3 352.5,460.0 C357.0,460.7 361.5,462.5 365.0,463.0 C368.5,463.5 375.5,463.2 380.0,463.8 C384.5,464.3 392.7,465.9 397.5,467.0 C402.3,468.1 409.3,470.8 412.5,471.2 C415.7,471.7 423.3,471.4 427.5,471.2 C431.7,471.1 435.8,470.0 440.0,470.5 C444.2,471.0 460.6,475.1 465.0,475.5 C469.4,475.9 474.5,474.2 480.0,474.5 C485.5,474.8 504.4,477.8 508.8,478.0 C513.1,478.2 516.8,477.2 520.0,476.2 C523.2,475.3 534.8,470.5 535.0,470.5 C535.2,470.5 546.9,475.5 547.5,475.5 C548.1,475.5 560.0,471.4 565.0,470.0 C570.0,468.6 577.4,466.5 580.0,466.2 C582.6,466.0 590.1,467.8 592.5,467.5 C594.9,467.2 607.8,462.3 610.0,462.0 C612.2,461.7 620.7,463.8 622.5,463.8 C624.3,463.8 627.4,462.3 630.0,462.0 C632.6,461.7 640.2,461.7 642.5,461.2 C644.8,460.8 651.2,457.6 652.5,457.5 C653.8,457.4 662.2,459.6 665.0,459.5 C667.8,459.4 680.2,456.4 682.5,456.2 C684.8,456.1 688.9,457.6 690.0,457.5 C691.1,457.4 696.6,455.4 697.5,455.5 C698.4,455.6 709.1,459.5 710.0,459.5 C710.9,459.5 722.0,455.0 725.0,454.5 C728.0,454.0 736.5,454.3 740.0,454.5 C743.5,454.7 749.8,456.4 751.2,456.2 C752.7,456.1 762.3,451.7 765.0,451.2 C767.7,450.8 775.7,451.0 780.0,451.2 C784.3,451.5 789.8,452.5 795.0,453.0 C800.2,453.5 809.5,454.7 812.5,454.5 C815.5,454.3 825.6,450.6 827.5,450.5 C829.4,450.4 837.3,452.8 840.0,453.0 C842.7,453.2 852.1,451.9 852.5,452.0 C852.9,452.1 857.9,455.2 858.8,456.2 C859.6,457.3 865.0,467.5 865.0,467.5 C865.0,467.5 871.0,468.3 871.2,468.2 C871.5,468.2 877.1,464.8 880.0,462.5 C882.9,460.2 891.2,452.1 892.5,451.2 C893.8,450.4 896.6,449.7 898.8,449.5 C900.9,449.3 910.6,449.2 912.5,449.5 C914.4,449.8 919.8,452.8 922.5,453.8 C925.2,454.7 931.7,456.2 932.5,456.2 C933.3,456.2 936.9,454.9 940.0,453.8 C943.1,452.6 950.8,449.2 952.5,448.8 C954.2,448.3 957.5,449.1 960.0,448.8 C962.5,448.4 970.7,446.4 972.5,446.2 C974.3,446.1 977.2,446.8 980.0,447.5 C982.8,448.2 990.9,451.2 992.5,451.2 C994.1,451.3 1003.7,448.6 1007.5,448.0 C1011.3,447.4 1017.1,446.8 1020.0,447.0 C1022.9,447.2 1030.9,449.4 1033.8,449.5 C1036.6,449.6 1044.3,448.7 1047.5,448.0 C1050.7,447.3 1058.6,443.8 1060.0,443.8 C1061.4,443.7 1067.1,445.7 1072.5,446.2 C1077.9,446.8 1094.9,447.0 1100.0,447.5 C1105.1,448.0 1109.8,449.6 1112.5,450.5 C1115.2,451.4 1119.3,453.4 1121.2,454.5 C1123.2,455.6 1126.4,458.4 1127.5,458.8 C1128.6,459.1 1140.0,460.0 1140.0,460.0 C1140.0,460.0 1145.3,468.1 1147.5,471.2 C1149.7,474.4 1152.4,478.6 1153.8,480.0 C1155.1,481.4 1158.5,482.9 1161.2,485.5 C1164.0,488.1 1173.5,498.7 1175.0,500.0 C1176.5,501.3 1181.2,502.5 1181.2,502.5 C1181.2,502.5 1184.8,500.0 1187.5,498.8 C1190.2,497.5 1201.2,493.0 1201.2,493.0 C1201.2,493.0 1206.5,496.0 1208.8,497.5 C1211.0,499.0 1215.5,502.6 1216.2,503.0 C1217.0,503.4 1220.9,503.8 1221.2,503.8 C1221.6,503.7 1227.4,500.6 1228.8,499.5 C1230.1,498.4 1234.8,492.6 1235.0,492.5 C1235.2,492.4 1241.2,491.8 1241.2,491.8 C1241.2,491.8 1247.9,498.2 1248.8,498.8 C1249.6,499.3 1254.8,500.5 1255.0,500.5 C1255.2,500.5 1259.2,498.4 1261.2,497.5 C1263.3,496.6 1268.8,494.5 1268.8,494.5 C1268.8,494.5 1275.1,498.3 1276.2,498.8 C1277.4,499.2 1281.2,499.5 1281.2,499.5 C1281.2,499.5 1286.6,492.9 1288.8,490.0 C1290.9,487.1 1295.0,481.2 1295.0,481.2 L1302.5,480.0 C1302.5,480.0 1308.5,492.2 1310.0,494.5 C1311.5,496.8 1316.2,501.2 1316.2,501.2 C1316.2,501.2 1319.3,497.8 1320.0,497.5 C1320.7,497.2 1328.2,495.2 1330.0,495.0 C1331.8,494.8 1336.1,495.1 1337.5,495.5 C1338.9,495.9 1344.0,498.0 1345.0,498.8 C1346.0,499.5 1351.2,505.8 1351.2,505.8 C1351.2,505.8 1356.0,504.7 1356.2,504.5 C1356.5,504.3 1360.7,498.2 1362.5,496.2 C1364.3,494.3 1368.7,491.5 1371.2,488.8 C1373.8,486.0 1382.5,474.5 1382.5,474.5 C1382.5,474.5 1387.1,474.6 1388.8,475.0 C1390.4,475.4 1397.4,478.3 1397.5,478.2 C1397.6,478.2 1408.8,473.9 1410.0,473.0 C1411.2,472.1 1415.5,466.5 1417.5,463.8 C1419.5,461.0 1423.8,454.5 1423.8,454.5 L1436.2,465.0 C1436.2,465.0 1442.2,462.4 1443.8,462.0 C1445.3,461.6 1449.9,461.3 1450.0,461.2 C1450.1,461.2 1456.6,453.2 1457.5,452.5 C1458.4,451.8 1463.8,450.0 1463.8,450.0 L1471.2,461.2 L1477.5,461.2 C1477.5,461.2 1489.3,443.2 1490.0,442.5 C1490.7,441.8 1498.0,439.5 1498.0,439.5 C1498.0,439.5 1503.0,448.4 1505.0,452.5 C1507.0,456.6 1511.2,466.2 1511.2,466.2 C1511.2,466.2 1516.9,460.9 1518.8,458.8 C1520.6,456.6 1525.0,450.5 1525.0,450.5 C1525.0,450.5 1529.8,458.7 1531.2,463.8 C1532.7,468.8 1537.5,493.8 1537.5,493.8 L1545.0,495.0 L1551.2,472.5 C1551.2,472.5 1556.1,471.9 1557.5,472.0 C1558.9,472.1 1565.0,473.8 1565.0,473.8 C1565.0,473.8 1570.8,460.7 1572.5,457.5 C1574.2,454.3 1578.8,448.8 1578.8,448.8 C1578.8,448.8 1583.6,449.6 1585.0,449.5 C1586.4,449.4 1592.5,448.0 1592.5,448.0 C1592.5,448.0 1596.6,453.0 1598.8,455.5 C1600.9,458.0 1604.1,461.5 1606.2,463.8 C1608.4,466.0 1612.5,470.0 1612.5,470.0 C1612.5,470.0 1617.3,465.8 1618.8,463.8 C1620.2,461.7 1625.5,452.5 1625.5,452.5 C1625.5,452.5 1631.0,460.7 1632.5,462.5 C1634.0,464.3 1638.2,466.6 1638.8,468.0 C1639.3,469.4 1646.2,497.5 1646.2,497.5 L1652.5,493.8 C1652.5,493.8 1656.7,440.9 1658.8,425.0 C1660.8,409.1 1666.2,385.0 1666.2,385.0 C1666.2,385.0 1671.3,399.1 1673.6,410.0 C1675.9,420.9 1682.5,462.0 1682.5,462.0" fill="none" stroke="#ff0000" stroke-width="9.5" stroke-linejoin="round" stroke-linecap="butt"/>
<path d="M144.6,372.5 L151.2,323.0 C151.2,323.0 158.0,321.8 160.0,322.0 C162.0,322.2 170.1,324.8 172.5,325.0 C174.9,325.2 180.7,324.1 185.0,323.8 C189.3,323.4 197.9,322.7 200.0,323.0 C202.1,323.3 212.5,328.0 212.5,328.0 C212.5,328.0 222.3,323.0 225.0,322.5 C227.7,322.0 242.1,321.6 245.0,322.0 C247.9,322.4 257.9,327.0 258.8,327.0 C259.6,327.0 270.2,323.4 272.5,323.0 C274.8,322.6 277.9,323.3 280.0,323.0 C282.1,322.7 290.2,320.0 291.2,320.0 C292.3,320.0 299.1,322.5 300.0,322.5 C300.9,322.5 306.6,320.4 307.5,320.5 C308.4,320.6 317.3,324.4 320.0,324.5 C322.7,324.6 340.2,321.9 342.5,322.0 C344.8,322.1 348.2,324.8 352.5,325.5 C356.8,326.2 371.5,327.0 380.0,328.0 C388.5,329.0 403.9,331.9 407.5,332.0 C411.1,332.1 418.4,328.7 421.2,328.8 C424.1,328.8 436.1,331.0 442.5,332.5 C448.9,334.0 460.6,338.3 465.0,338.8 C469.4,339.2 482.2,338.2 487.5,337.5 C492.8,336.8 502.5,333.8 505.0,333.8 C507.5,333.7 517.0,336.8 520.0,337.0 C523.0,337.2 531.3,335.5 535.0,335.5 C538.7,335.5 544.9,337.3 550.0,337.0 C555.1,336.7 573.0,333.7 580.0,332.5 C587.0,331.3 590.4,330.3 595.0,329.5 C599.6,328.7 606.8,327.6 610.0,327.5 C613.2,327.4 619.9,328.9 622.5,328.8 C625.1,328.6 631.9,326.6 635.0,326.2 C638.1,325.9 644.6,326.6 647.5,326.2 C650.4,325.9 656.8,323.8 658.8,323.8 C660.7,323.7 667.8,325.7 670.0,325.5 C672.2,325.3 684.3,320.8 687.5,320.5 C690.7,320.2 704.0,322.8 707.5,322.5 C711.0,322.2 723.5,317.3 727.5,317.0 C731.5,316.7 745.3,319.0 750.0,318.8 C754.7,318.5 766.8,315.1 770.0,315.0 C773.2,314.9 780.9,317.2 785.0,317.5 C789.1,317.8 799.2,317.4 802.5,317.0 C805.8,316.6 809.3,314.6 812.5,314.5 C815.7,314.4 831.2,316.3 835.0,316.2 C838.8,316.2 845.5,313.8 847.5,313.8 C849.5,313.7 855.2,314.6 857.5,315.5 C859.8,316.4 871.2,323.0 871.2,323.0 C871.2,323.0 896.4,310.3 897.5,310.0 C898.6,309.7 911.0,313.1 912.5,313.0 C914.0,312.9 923.8,308.9 925.0,308.8 C926.2,308.6 930.4,309.9 932.5,310.0 C934.6,310.1 940.1,309.2 942.5,309.5 C944.9,309.8 953.9,312.6 955.0,312.5 C956.1,312.4 970.8,305.7 972.5,305.5 C974.2,305.3 990.3,309.3 992.5,309.2 C994.7,309.2 1004.0,305.3 1007.5,304.5 C1011.0,303.7 1017.3,302.9 1020.0,303.0 C1022.7,303.1 1031.1,305.5 1033.8,305.5 C1036.4,305.5 1045.1,303.3 1050.0,302.5 C1054.9,301.7 1062.7,300.6 1065.0,300.5 C1067.3,300.4 1070.9,301.7 1072.5,301.8 C1074.1,301.8 1077.8,300.7 1080.0,300.8 C1082.2,300.8 1089.9,302.5 1092.5,302.5 C1095.1,302.5 1103.2,300.5 1105.0,300.5 C1106.8,300.5 1111.9,301.8 1113.8,302.5 C1115.6,303.2 1119.8,306.2 1122.5,307.5 C1125.2,308.8 1130.9,310.3 1133.8,312.0 C1136.6,313.7 1144.6,319.2 1147.5,322.0 C1150.4,324.8 1156.4,334.4 1160.0,337.5 C1163.6,340.6 1182.5,352.5 1182.5,352.5 C1182.5,352.5 1186.6,351.8 1187.5,351.2 C1188.4,350.7 1193.9,345.6 1195.0,345.0 C1196.1,344.4 1200.7,343.2 1201.2,343.2 C1201.8,343.3 1208.7,346.0 1210.0,346.2 C1211.3,346.5 1214.3,346.5 1215.0,346.2 C1215.7,346.0 1221.4,342.4 1222.5,342.0 C1223.6,341.6 1225.9,341.7 1227.5,341.2 C1229.1,340.8 1235.0,338.8 1235.0,338.8 C1235.0,338.8 1248.8,349.3 1250.0,350.0 C1251.2,350.7 1254.2,350.9 1255.0,350.8 C1255.8,350.6 1262.2,348.0 1262.5,348.0 C1262.8,348.0 1275.0,353.0 1276.2,353.2 C1277.5,353.5 1282.2,352.7 1282.5,352.5 C1282.8,352.3 1287.1,348.2 1288.8,346.2 C1290.4,344.3 1293.6,338.9 1295.0,337.5 C1296.4,336.1 1302.5,332.0 1302.5,332.0 C1302.5,332.0 1308.3,336.3 1310.0,338.0 C1311.7,339.7 1316.2,345.5 1316.2,345.5 C1316.2,345.5 1318.7,345.5 1320.0,345.0 C1321.3,344.5 1329.5,340.5 1329.5,340.5 C1329.5,340.5 1340.4,348.8 1342.5,350.0 C1344.6,351.2 1349.2,352.4 1350.0,352.5 C1350.8,352.6 1355.2,351.8 1356.2,351.2 C1357.3,350.7 1362.2,346.5 1365.0,344.5 C1367.8,342.5 1374.0,338.4 1375.0,338.0 C1376.0,337.6 1381.3,337.9 1382.5,337.5 C1383.7,337.1 1388.5,334.3 1390.0,333.8 C1391.5,333.2 1396.0,333.0 1397.5,332.5 C1399.0,332.0 1403.2,330.2 1405.0,328.8 C1406.8,327.3 1416.0,317.7 1416.2,317.5 C1416.5,317.3 1422.0,316.8 1422.5,317.0 C1423.0,317.2 1429.7,321.7 1431.2,322.5 C1432.8,323.3 1436.7,324.2 1437.5,324.2 C1438.3,324.3 1442.4,323.8 1443.8,323.0 C1445.1,322.2 1454.3,314.9 1456.2,313.8 C1458.2,312.6 1462.3,311.5 1463.8,311.2 C1465.2,311.0 1471.0,311.4 1471.2,311.2 C1471.5,311.1 1478.2,305.2 1478.8,305.0 C1479.3,304.8 1489.3,304.4 1490.0,304.5 C1490.7,304.6 1492.8,306.0 1495.0,307.5 C1497.2,309.0 1502.4,313.0 1505.0,315.0 C1507.6,317.0 1511.2,320.0 1511.2,320.0 C1511.2,320.0 1517.6,311.2 1518.8,310.0 C1519.9,308.8 1525.0,306.2 1525.0,306.2 C1525.0,306.2 1529.5,315.2 1531.2,320.0 C1533.0,324.8 1537.5,341.2 1537.5,341.2 L1543.8,341.2 L1551.2,310.0 C1551.2,310.0 1555.7,308.1 1557.5,307.0 C1559.3,305.9 1565.0,301.8 1565.0,301.8 C1565.0,301.8 1570.8,304.5 1572.5,305.0 C1574.2,305.5 1578.8,306.2 1578.8,306.2 L1585.0,289.5 C1585.0,289.5 1591.5,293.7 1592.5,295.0 C1593.5,296.3 1598.8,306.2 1598.8,306.2 C1598.8,306.2 1605.6,306.4 1607.5,306.2 C1609.4,306.1 1612.8,305.4 1613.8,305.0 C1614.7,304.6 1620.0,300.5 1620.0,300.5 C1620.0,300.5 1623.8,321.3 1625.0,325.0 C1626.2,328.7 1632.5,338.0 1632.5,338.0 L1638.8,321.2 C1638.8,321.2 1643.0,324.5 1645.0,326.2 C1647.0,328.0 1652.5,333.8 1652.5,333.8 C1652.5,333.8 1656.7,294.2 1658.8,280.0 C1660.8,265.8 1666.2,240.3 1666.2,240.3 L1683.0,358.0" fill="none" stroke="#d633ff" stroke-width="9.5" stroke-linejoin="round" stroke-linecap="butt"/>
<path d="M144.6,261 L151.2,200.0 C151.2,200.0 162.2,201.4 165.0,201.2 C167.8,201.1 175.5,198.9 177.5,198.8 C179.5,198.6 184.8,200.2 186.2,200.0 C187.7,199.8 198.1,195.8 198.8,195.8 C199.4,195.7 208.8,199.4 210.0,199.5 C211.2,199.6 217.1,198.0 218.8,198.0 C220.4,198.0 226.9,199.6 227.5,199.5 C228.1,199.4 238.3,193.8 238.8,193.8 C239.2,193.7 247.5,196.2 250.0,196.2 C252.5,196.3 262.2,194.3 265.0,194.5 C267.8,194.7 279.8,198.0 280.0,198.0 C280.2,198.0 292.7,190.3 293.8,190.0 C294.8,189.7 302.5,190.8 305.0,190.8 C307.5,190.8 310.3,189.6 312.5,190.0 C314.7,190.4 326.8,194.1 332.5,196.2 C338.2,198.4 350.7,204.5 352.5,205.0 C354.3,205.5 357.6,203.9 360.0,204.5 C362.4,205.1 379.8,211.9 382.5,212.5 C385.2,213.1 388.5,211.6 392.5,212.0 C396.5,212.4 410.8,214.4 415.0,215.5 C419.2,216.6 426.9,221.2 428.8,221.2 C430.6,221.3 443.0,218.7 452.5,217.5 C462.0,216.3 482.1,214.6 490.0,213.8 C497.9,212.9 497.7,212.1 502.5,212.0 C507.3,211.9 522.1,213.4 527.5,213.0 C532.9,212.6 542.8,209.2 550.0,208.2 C557.2,207.3 573.0,206.8 580.0,206.2 C587.0,205.7 592.0,204.4 595.0,204.5 C598.0,204.6 607.5,207.5 610.0,207.5 C612.5,207.5 618.7,205.2 625.0,204.5 C631.3,203.8 649.7,202.4 655.0,202.5 C660.3,202.6 670.1,205.7 671.2,205.5 C672.4,205.3 686.3,198.2 687.5,198.0 C688.7,197.8 696.0,199.7 700.0,200.0 C704.0,200.3 713.4,200.4 717.5,200.0 C721.6,199.6 729.4,197.0 732.5,197.0 C735.6,197.0 746.6,199.7 750.0,199.5 C753.4,199.3 767.3,195.1 770.0,195.0 C772.7,194.9 782.4,197.8 785.0,198.0 C787.6,198.2 792.9,197.5 795.0,197.0 C797.1,196.5 804.3,193.0 805.0,193.0 C805.7,193.0 814.8,196.1 817.5,196.2 C820.2,196.4 830.5,194.6 835.0,194.5 C839.5,194.4 848.7,194.9 851.2,195.5 C853.8,196.1 865.0,202.0 865.0,202.0 C865.0,202.0 874.9,198.2 876.2,198.0 C877.6,197.8 886.2,199.5 886.2,199.5 C886.2,199.5 898.1,190.2 898.8,190.0 C899.4,189.8 910.0,190.1 915.0,190.5 C920.0,190.9 929.1,192.8 932.5,192.5 C935.9,192.2 948.4,188.2 952.5,187.5 C956.6,186.8 964.0,186.8 966.2,187.0 C968.5,187.2 972.2,189.2 975.0,189.5 C977.8,189.8 989.2,189.9 992.5,189.5 C995.8,189.1 1005.0,185.5 1006.2,185.5 C1007.5,185.5 1018.4,189.2 1020.0,189.5 C1021.6,189.8 1022.9,189.6 1026.2,188.8 C1029.6,187.9 1043.7,182.8 1046.2,182.5 C1048.8,182.2 1056.6,184.1 1060.0,184.2 C1063.4,184.4 1069.4,184.2 1072.5,183.8 C1075.6,183.3 1083.2,180.9 1085.0,180.8 C1086.8,180.6 1090.4,182.1 1093.8,182.0 C1097.1,181.9 1110.5,180.5 1113.8,180.0 C1117.0,179.5 1119.1,177.8 1121.2,177.5 C1123.4,177.2 1130.6,177.5 1133.8,177.0 C1136.9,176.5 1144.2,173.8 1147.5,173.2 C1150.8,172.7 1161.2,172.5 1161.2,172.5 C1161.2,172.5 1166.9,179.9 1168.8,183.0 C1170.6,186.1 1174.0,193.8 1175.0,195.0 C1176.0,196.2 1181.3,200.1 1182.5,200.5 C1183.7,200.9 1194.2,202.2 1195.0,202.0 C1195.8,201.8 1207.5,195.0 1207.5,195.0 C1207.5,195.0 1219.3,198.7 1221.2,198.8 C1223.2,198.8 1230.7,196.6 1235.0,196.2 C1239.3,195.9 1253.8,196.5 1255.0,196.2 C1256.2,196.0 1261.6,191.7 1262.5,191.2 C1263.4,190.8 1265.9,190.3 1267.5,190.5 C1269.1,190.7 1278.4,193.1 1280.0,193.0 C1281.6,192.9 1293.4,188.1 1295.0,188.0 C1296.6,187.9 1310.0,191.2 1310.0,191.2 C1310.0,191.2 1320.8,182.6 1322.5,182.0 C1324.2,181.4 1339.4,180.0 1342.5,180.0 C1345.6,180.0 1349.2,181.7 1352.5,182.0 C1355.8,182.3 1365.1,182.7 1367.5,182.5 C1369.9,182.3 1374.9,180.1 1376.2,180.0 C1377.6,179.9 1381.6,180.5 1385.0,181.2 C1388.4,182.0 1396.8,183.9 1400.0,185.0 C1403.2,186.1 1410.0,189.5 1410.0,189.5 C1410.0,189.5 1415.7,184.6 1417.5,183.8 C1419.3,182.9 1430.0,180.0 1430.0,180.0 C1430.0,180.0 1434.9,186.7 1436.2,188.0 C1437.6,189.3 1443.8,193.0 1443.8,193.0 C1443.8,193.0 1455.8,169.3 1456.2,168.8 C1456.7,168.2 1463.8,165.5 1463.8,165.5 C1463.8,165.5 1470.3,169.6 1471.2,170.0 C1472.2,170.4 1475.2,170.1 1476.2,170.5 C1477.3,170.9 1482.9,174.5 1485.0,175.5 C1487.1,176.5 1491.3,178.0 1492.5,178.2 C1493.7,178.5 1496.9,178.5 1497.5,178.2 C1498.1,178.0 1504.2,173.6 1507.5,171.2 C1510.8,168.9 1517.5,164.2 1517.5,164.2 C1517.5,164.2 1523.1,165.5 1525.0,167.0 C1526.9,168.5 1541.2,182.5 1541.2,182.5 C1541.2,182.5 1548.6,165.6 1548.8,165.5 C1548.9,165.4 1558.8,161.2 1558.8,161.2 L1566.2,177.5 C1566.2,177.5 1569.6,169.2 1570.0,168.8 C1570.4,168.3 1578.8,163.8 1578.8,163.8 L1585.5,172.5 C1585.5,172.5 1591.6,167.0 1592.5,165.0 C1593.4,163.0 1598.8,145.0 1598.8,145.0 C1598.8,145.0 1604.9,156.2 1606.2,161.2 C1607.6,166.3 1610.2,185.1 1611.2,190.0 C1612.3,194.9 1613.8,197.5 1613.8,197.5 C1613.8,197.5 1618.6,193.0 1620.0,191.2 C1621.4,189.5 1625.5,182.5 1625.5,182.5 L1632.5,211.2 L1638.8,212.5 C1638.8,212.5 1644.6,207.1 1646.2,205.0 C1647.9,202.9 1651.1,198.4 1652.5,195.0 C1653.9,191.6 1658.8,174.5 1658.8,174.5 C1658.8,174.5 1666.6,179.1 1667.5,179.4 C1668.4,179.7 1673.0,179.6 1673.0,179.6 L1680.0,190.5" fill="none" stroke="#0000ff" stroke-width="9.5" stroke-linejoin="round" stroke-linecap="butt"/>
</g>
<g id="dashes" fill="#404040"><rect x="1143.50" y="141.50" width="9.5" height="25.50"/><rect x="1143.50" y="186.88" width="9.5" height="25.50"/><rect x="1143.50" y="232.25" width="9.5" height="25.50"/><rect x="1143.50" y="277.62" width="9.5" height="25.50"/><rect x="1143.50" y="323.00" width="9.5" height="25.50"/><rect x="1143.50" y="368.38" width="9.5" height="25.50"/><rect x="1143.50" y="413.75" width="9.5" height="25.50"/><rect x="1143.50" y="459.12" width="9.5" height="25.50"/><rect x="1143.50" y="504.50" width="9.5" height="25.50"/><rect x="1143.50" y="549.88" width="9.5" height="25.50"/><rect x="1143.50" y="595.25" width="9.5" height="25.50"/><rect x="1143.50" y="640.62" width="9.5" height="25.50"/><rect x="1143.50" y="686.00" width="9.5" height="25.50"/><rect x="1143.50" y="731.38" width="9.5" height="25.50"/><rect x="1143.50" y="776.75" width="9.5" height="25.50"/><rect x="1143.50" y="822.12" width="9.5" height="25.50"/><rect x="1143.50" y="867.50" width="9.5" height="25.50"/><rect x="1143.50" y="912.88" width="9.5" height="25.50"/><rect x="1143.50" y="958.25" width="9.5" height="25.50"/><rect x="1143.50" y="1003.62" width="9.5" height="25.50"/><rect x="1143.50" y="1049.00" width="9.5" height="25.50"/><rect x="1143.50" y="1094.38" width="9.5" height="25.50"/><rect x="1143.50" y="1139.75" width="9.5" height="11.25"/><rect x="1370.25" y="141.50" width="9.5" height="24.75"/><rect x="1370.25" y="186.25" width="9.5" height="25.50"/><rect x="1370.25" y="231.62" width="9.5" height="25.50"/><rect x="1370.25" y="277.00" width="9.5" height="25.50"/><rect x="1370.25" y="322.38" width="9.5" height="25.50"/><rect x="1370.25" y="367.75" width="9.5" height="25.50"/><rect x="1370.25" y="413.12" width="9.5" height="25.50"/><rect x="1370.25" y="458.50" width="9.5" height="25.50"/><rect x="1370.25" y="503.88" width="9.5" height="25.50"/><rect x="1370.25" y="549.25" width="9.5" height="25.50"/><rect x="1370.25" y="594.62" width="9.5" height="25.50"/><rect x="1370.25" y="640.00" width="9.5" height="25.50"/><rect x="1370.25" y="685.38" width="9.5" height="25.50"/><rect x="1370.25" y="730.75" width="9.5" height="25.50"/><rect x="1370.25" y="776.12" width="9.5" height="25.50"/><rect x="1370.25" y="821.50" width="9.5" height="25.50"/><rect x="1370.25" y="866.88" width="9.5" height="25.50"/><rect x="1370.25" y="912.25" width="9.5" height="25.50"/><rect x="1370.25" y="957.62" width="9.5" height="25.50"/><rect x="1370.25" y="1003.00" width="9.5" height="25.50"/><rect x="1370.25" y="1048.38" width="9.5" height="25.50"/><rect x="1370.25" y="1093.75" width="9.5" height="25.50"/><rect x="1370.25" y="1139.12" width="9.5" height="11.88"/><rect x="1143.50" y="141.50" width="25.50" height="9.5"/><rect x="1188.65" y="141.50" width="25.50" height="9.5"/><rect x="1233.80" y="141.50" width="25.50" height="9.5"/><rect x="1278.95" y="141.50" width="25.50" height="9.5"/><rect x="1324.10" y="141.50" width="25.50" height="9.5"/><rect x="1369.25" y="141.50" width="10.50" height="9.5"/><rect x="1143.50" y="1141.50" width="13.50" height="9.5"/><rect x="1176.75" y="1141.50" width="25.30" height="9.5"/><rect x="1222.00" y="1141.50" width="25.30" height="9.5"/><rect x="1267.00" y="1141.50" width="25.30" height="9.5"/><rect x="1312.00" y="1141.50" width="25.30" height="9.5"/><rect x="1357.50" y="1141.50" width="22.25" height="9.5"/><rect x="1539.00" y="135.00" width="9.5" height="25.70"/><rect x="1539.00" y="180.38" width="9.5" height="25.70"/><rect x="1539.00" y="225.75" width="9.5" height="25.70"/><rect x="1539.00" y="271.12" width="9.5" height="25.70"/><rect x="1539.00" y="316.50" width="9.5" height="25.70"/><rect x="1539.00" y="361.88" width="9.5" height="25.70"/><rect x="1539.00" y="407.25" width="9.5" height="25.70"/><rect x="1539.00" y="452.62" width="9.5" height="25.70"/><rect x="1539.00" y="498.00" width="9.5" height="25.70"/><rect x="1539.00" y="543.38" width="9.5" height="25.70"/><rect x="1539.00" y="588.75" width="9.5" height="25.70"/><rect x="1539.00" y="634.12" width="9.5" height="25.70"/><rect x="1539.00" y="679.50" width="9.5" height="25.70"/><rect x="1539.00" y="724.88" width="9.5" height="25.70"/><rect x="1539.00" y="770.25" width="9.5" height="25.70"/><rect x="1539.00" y="815.62" width="9.5" height="25.70"/><rect x="1539.00" y="861.00" width="9.5" height="25.70"/><rect x="1539.00" y="906.38" width="9.5" height="25.70"/><rect x="1539.00" y="951.75" width="9.5" height="25.70"/><rect x="1539.00" y="997.12" width="9.5" height="25.70"/><rect x="1539.00" y="1042.50" width="9.5" height="25.70"/><rect x="1539.00" y="1087.88" width="9.5" height="25.70"/><rect x="1539.00" y="1133.25" width="9.5" height="19.85"/></g>
<g id="arrows" fill="#ff0000" stroke="none"><polygon points="1266.9,1146.2 1230.4,1195 1258.5,1206.9"/><polygon points="1548.5,1114.4 1606.9,1135.6 1589.4,1161"/></g>
<g stroke="#ff0000" stroke-width="7.7" fill="none"><line x1="1245.2" y1="1199" x2="1229.9" y2="1236"/><line x1="1596.5" y1="1147.2" x2="1627.75" y2="1168.75"/></g>
<g id="text" fill="#000"><text x="149.15" y="1434" text-anchor="middle" style="font-family:'Liberation Serif','Times New Roman',serif;font-kerning:none;font-size:84px">4000</text><text x="367.40" y="1434" text-anchor="middle" style="font-family:'Liberation Serif','Times New Roman',serif;font-kerning:none;font-size:84px">3500</text><text x="585.65" y="1434" text-anchor="middle" style="font-family:'Liberation Serif','Times New Roman',serif;font-kerning:none;font-size:84px">3000</text><text x="803.90" y="1434" text-anchor="middle" style="font-family:'Liberation Serif','Times New Roman',serif;font-kerning:none;font-size:84px">2500</text><text x="1022.15" y="1434" text-anchor="middle" style="font-family:'Liberation Serif','Times New Roman',serif;font-kerning:none;font-size:84px">2000</text><text x="1240.40" y="1434" text-anchor="middle" style="font-family:'Liberation Serif','Times New Roman',serif;font-kerning:none;font-size:84px">1500</text><text x="1458.65" y="1434" text-anchor="middle" style="font-family:'Liberation Serif','Times New Roman',serif;font-kerning:none;font-size:84px">1000</text><text x="1676.90" y="1434" text-anchor="middle" style="font-family:'Liberation Serif','Times New Roman',serif;font-kerning:none;font-size:84px">500</text><text x="174.54" y="171" textLength="311.66" lengthAdjust="spacingAndGlyphs" style="font-family:'Liberation Serif','Times New Roman',serif;font-kerning:none;font-weight:bold;font-size:84px">ZIS QDs</text><text x="175.09" y="300" textLength="436.38" lengthAdjust="spacingAndGlyphs" style="font-family:'Liberation Serif','Times New Roman',serif;font-kerning:none;font-weight:bold;font-size:84px">25%ZIS/CN</text><text x="174.59" y="440" textLength="437.59" lengthAdjust="spacingAndGlyphs" style="font-family:'Liberation Serif','Times New Roman',serif;font-kerning:none;font-weight:bold;font-size:84px">20%ZIS/CN</text><text x="175.68" y="592" textLength="435.92" lengthAdjust="spacingAndGlyphs" style="font-family:'Liberation Serif','Times New Roman',serif;font-kerning:none;font-weight:bold;font-size:84px">15%ZIS/CN</text><text x="175.68" y="734" textLength="435.92" lengthAdjust="spacingAndGlyphs" style="font-family:'Liberation Serif','Times New Roman',serif;font-kerning:none;font-weight:bold;font-size:84px">10%ZIS/CN</text><text x="175.84" y="880" textLength="394.6" lengthAdjust="spacingAndGlyphs" style="font-family:'Liberation Serif','Times New Roman',serif;font-kerning:none;font-weight:bold;font-size:84px">5%ZIS/CN</text><text x="175.61" y="1020" textLength="118.19" lengthAdjust="spacingAndGlyphs" style="font-family:'Liberation Serif','Times New Roman',serif;font-kerning:none;font-weight:bold;font-size:84px">CN</text><text x="1071.87" y="124" textLength="375.78" lengthAdjust="spacingAndGlyphs" style="font-family:'Liberation Serif','Times New Roman',serif;font-kerning:none;font-weight:bold;font-size:84.5px">1700<tspan dy="5">~</tspan><tspan dy="-5">1200</tspan></text><text x="1479.04" y="124" textLength="124.66" lengthAdjust="spacingAndGlyphs" style="font-family:'Liberation Serif','Times New Roman',serif;font-kerning:none;font-weight:bold;font-size:84.5px">805</text><text x="626.57" y="1219" textLength="596.19" lengthAdjust="spacingAndGlyphs" style="font-family:'Liberation Serif','Times New Roman',serif;font-kerning:none;font-weight:bold;font-size:83.5px">C-N heterocycles</text><text x="626.56" y="1304" textLength="655.74" lengthAdjust="spacingAndGlyphs" style="font-family:'Liberation Serif','Times New Roman',serif;font-kerning:none;font-weight:bold;font-size:83.5px">C=N double bonds</text><text x="1376.02" y="1217" textLength="295.8" lengthAdjust="spacingAndGlyphs" style="font-family:'Liberation Serif','Times New Roman',serif;font-kerning:none;font-weight:bold;font-size:83.5px">Triazine</text><text x="1375.05" y="1301" textLength="144.59" lengthAdjust="spacingAndGlyphs" style="font-family:'Liberation Serif','Times New Roman',serif;font-kerning:none;font-weight:bold;font-size:83.5px">ring</text><g id="xtitle"><text x="524.0" y="1529.4" textLength="518.25" lengthAdjust="spacingAndGlyphs" style="font-family:'Liberation Serif','Times New Roman',serif;font-kerning:none;font-weight:bold;font-size:88.5px">Wavenumber</text><text x="1063.47" y="1529.4" textLength="143.54" lengthAdjust="spacingAndGlyphs" style="font-family:'Liberation Serif','Times New Roman',serif;font-kerning:none;font-weight:bold;font-size:88.5px">(cm</text><text x="1205.3" y="1493.6" textLength="39.81" lengthAdjust="spacingAndGlyphs" style="font-family:'Liberation Serif','Times New Roman',serif;font-kerning:none;font-size:62px">−</text><text x="1241.21" y="1493.6" textLength="29.68" lengthAdjust="spacingAndGlyphs" style="font-family:'Liberation Serif','Times New Roman',serif;font-kerning:none;font-weight:bold;font-size:62px">1</text><text x="1269.03" y="1529.4" textLength="34.68" lengthAdjust="spacingAndGlyphs" style="font-family:'Liberation Serif','Times New Roman',serif;font-kerning:none;font-weight:bold;font-size:88.5px">)</text></g><text transform="translate(98.75,1024.49) rotate(-90)" textLength="707.27" lengthAdjust="spacingAndGlyphs" style="font-family:'Liberation Serif','Times New Roman',serif;font-kerning:none;font-weight:bold;font-size:89.5px">Transmittance(%)</text></g>
</svg>
</body></html>
